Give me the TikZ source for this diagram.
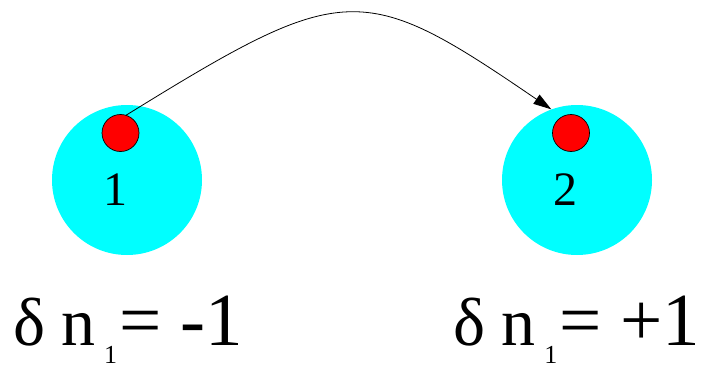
\documentclass[tikz,border=0pt]{standalone}
\usepackage{fontspec}
\setmainfont{Liberation Serif}
\usetikzlibrary{arrows.meta}
\definecolor{sitecyan}{RGB}{0,255,255}
\definecolor{dotred}{RGB}{255,0,0}
\newcommand{\occ}[1]{\fontsize{68}{68}\selectfont δ\hspace{16pt}n\kern9pt\raisebox{-18pt}{\fontsize{26}{26}\selectfont 1}\kern2pt\fontsize{75}{75}\selectfont = #1}

\begin{document}
\begin{tikzpicture}[
  x=1pt, y=-1pt,
  site/.style={circle, fill=sitecyan, minimum size=150pt, inner sep=0pt},
  dot/.style={circle, fill=dotred, draw=black, line width=0.7pt, minimum size=37pt, inner sep=0pt},
  num/.style={anchor=base, font=\fontsize{48}{48}\selectfont, inner sep=0pt},
  eqn/.style={anchor=base west, inner sep=0pt},
  hop/.style={-{Triangle[length=18pt, width=11pt]}, line width=0.8pt},
]
  \useasboundingbox (0,0) rectangle (703,369);
  % sites
  \node[site] (site1) at (127,180) {};
  \node[site] (site2) at (577,180) {};
  \node[dot] (dot1) at (120.5,133) {};
  \node[dot] (dot2) at (571,133) {};
  \node[num] (lab1) at (115,205) {1};
  \node[num] (lab2) at (565,205) {2};

  \draw[hop] (dot1.72) .. controls (345,-20) and (362,-20) .. (site2.110);

  % occupation changes
  \node[eqn] (eq1) at (13,345) {\occ{-1}};
  \node[eqn] (eq2) at (453,345) {\occ{+1}};
\end{tikzpicture}
\end{document}
